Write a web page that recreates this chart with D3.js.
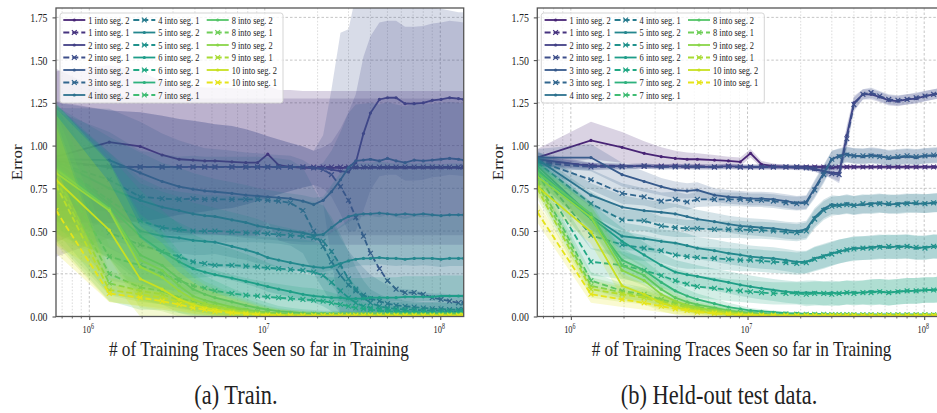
<!DOCTYPE html>
<html>
<head>
<meta charset="utf-8">
<script src="https://cdn.jsdelivr.net/npm/d3@7"></script>
<style>
  body { margin: 0; background: #fff; }
  svg text { font-family: "Liberation Serif", "DejaVu Serif", serif; fill: #222; }
</style>
</head>
<body>
<svg id="fig" width="937" height="413"></svg>
<script>
// checkpoints (millions of training traces)
const stepsM = [0.646, 1.3, 1.95, 2.6, 3.25, 3.9, 4.55, 5.2, 6.5, 7.8, 9.1, 10.4, 12, 14, 16.5, 19,
  21.5, 24, 27, 30, 33, 36.5, 40, 45, 50, 56, 63, 71, 80, 90, 101, 113, 127, 136];

const seriesNames = ["1 into seg. 2", "1 into seg. 1", "2 into seg. 2", "2 into seg. 1",
  "3 into seg. 2", "3 into seg. 1", "4 into seg. 2", "4 into seg. 1", "5 into seg. 2", "5 into seg. 1",
  "6 into seg. 2", "6 into seg. 1", "7 into seg. 2", "7 into seg. 1", "8 into seg. 2", "8 into seg. 1",
  "9 into seg. 2", "9 into seg. 1", "10 into seg. 2", "10 into seg. 1"];

const yTicks = [0, 0.25, 0.5, 0.75, 1.0, 1.25, 1.5, 1.75];
const xMajorTicks = [1e6, 1e7, 1e8];
const xTickExponents = ["6", "7", "8"];
const xLabel = "# of Training Traces Seen so far in Training";
const yLabel = "Error";
const captions = ["(a) Train.", "(b) Held-out test data."];

// ---- train: mean error per series ----
const trainMean = [
  [0.935,1.02,0.995,0.945,0.92,0.915,0.91,0.91, 0.905,0.90,0.90,0.95,0.885,0.875,0.87,0.87, 0.87,0.87,0.87,0.87,0.87,0.87,0.87,0.87, 0.87,0.87,0.87,0.87,0.87,0.87,0.87,0.87,0.87,0.87],
  [0.90,0.88,0.875,0.875,0.875,0.875,0.875,0.875, 0.875,0.875,0.875,0.875,0.875,0.875,0.875,0.875, 0.875,0.875,0.875,0.875,0.875,0.875,0.875,0.875, 0.875,0.875,0.875,0.875,0.875,0.875,0.875,0.875,0.875,0.875],
  [0.91,0.875,0.875,0.875,0.875,0.875,0.875,0.875, 0.875,0.875,0.875,0.875,0.875,0.875,0.875,0.87, 0.87,0.86,0.85,0.845,0.90,1.07,1.19,1.27, 1.28,1.28,1.245,1.245,1.25,1.265,1.27,1.28,1.275,1.27],
  [0.90,0.875,0.875,0.875,0.875,0.875,0.875,0.875, 0.875,0.875,0.875,0.875,0.875,0.875,0.875,0.87, 0.86,0.83,0.76,0.68,0.58,0.47,0.37,0.28, 0.21,0.16,0.14,0.14,0.13,0.11,0.10,0.09,0.08,0.08],
  [0.92,0.915,0.84,0.79,0.76,0.745,0.735,0.73, 0.72,0.71,0.705,0.70,0.695,0.69,0.675,0.655, 0.68,0.73,0.80,0.87,0.91,0.915,0.92,0.91, 0.925,0.91,0.90,0.915,0.91,0.915,0.92,0.925,0.92,0.915],
  [0.90,0.80,0.70,0.69,0.685,0.69,0.685,0.685, 0.685,0.685,0.685,0.68,0.675,0.665,0.62,0.50, 0.41,0.32,0.24,0.185,0.15,0.125,0.105,0.09, 0.075,0.065,0.06,0.055,0.05,0.045,0.045,0.04,0.04,0.04],
  [0.91,0.75,0.68,0.64,0.62,0.60,0.59,0.585, 0.565,0.55,0.53,0.52,0.51,0.50,0.49,0.475, 0.48,0.52,0.56,0.585,0.595,0.60,0.60,0.605, 0.60,0.595,0.60,0.595,0.60,0.595,0.59,0.595,0.595,0.595],
  [0.90,0.68,0.56,0.52,0.51,0.50,0.50,0.50, 0.495,0.49,0.49,0.485,0.48,0.475,0.47,0.46, 0.44,0.38,0.30,0.22,0.16,0.11,0.08,0.06, 0.05,0.045,0.04,0.04,0.035,0.035,0.035,0.03,0.03,0.03],
  [0.90,0.66,0.50,0.47,0.46,0.445,0.44,0.435, 0.41,0.39,0.37,0.345,0.33,0.315,0.30,0.29, 0.285,0.29,0.31,0.325,0.335,0.34,0.34,0.345, 0.34,0.34,0.335,0.34,0.34,0.34,0.335,0.34,0.34,0.34],
  [0.88,0.49,0.42,0.38,0.35,0.32,0.31,0.30, 0.30,0.295,0.29,0.285,0.28,0.275,0.27,0.26, 0.24,0.20,0.15,0.11,0.08,0.06,0.05,0.045, 0.04,0.035,0.035,0.03,0.03,0.03,0.03,0.03,0.03,0.03],
  [0.88,0.64,0.47,0.38,0.32,0.28,0.26,0.245, 0.225,0.205,0.19,0.175,0.16,0.145,0.13,0.12, 0.115,0.11,0.11,0.105,0.105,0.105,0.11,0.11, 0.11,0.11,0.115,0.115,0.115,0.115,0.12,0.12,0.12,0.12],
  [0.86,0.35,0.30,0.25,0.21,0.18,0.165,0.15, 0.135,0.125,0.12,0.115,0.11,0.105,0.10,0.095, 0.09,0.08,0.07,0.06,0.05,0.045,0.04,0.035, 0.03,0.03,0.025,0.025,0.025,0.02,0.02,0.02,0.02,0.02],
  [0.87,0.62,0.36,0.30,0.22,0.16,0.13,0.11, 0.085,0.065,0.05,0.04,0.03,0.025,0.02,0.018, 0.016,0.015,0.014,0.013,0.012,0.012,0.012,0.012, 0.012,0.012,0.012,0.012,0.012,0.012,0.012,0.012,0.012,0.012],
  [0.82,0.25,0.17,0.15,0.11,0.085,0.07,0.06, 0.045,0.035,0.028,0.022,0.018,0.015,0.013,0.012, 0.011,0.01,0.01,0.01,0.01,0.01,0.01,0.01, 0.01,0.01,0.01,0.01,0.01,0.01,0.01,0.01,0.01,0.01],
  [0.86,0.63,0.33,0.27,0.18,0.12,0.095,0.08, 0.055,0.04,0.03,0.022,0.016,0.013,0.011,0.01, 0.01,0.01,0.01,0.01,0.01,0.01,0.01,0.01, 0.01,0.01,0.01,0.01,0.01,0.01,0.01,0.01,0.01,0.01],
  [0.80,0.195,0.15,0.13,0.095,0.075,0.06,0.05, 0.035,0.025,0.018,0.014,0.011,0.01,0.009,0.009, 0.009,0.009,0.009,0.009,0.009,0.009,0.009,0.009, 0.009,0.009,0.009,0.009,0.009,0.009,0.009,0.009,0.009,0.009],
  [0.84,0.62,0.29,0.23,0.15,0.10,0.075,0.06, 0.04,0.028,0.02,0.015,0.011,0.01,0.009,0.008, 0.008,0.008,0.008,0.008,0.008,0.008,0.008,0.008, 0.008,0.008,0.008,0.008,0.008,0.008,0.008,0.008,0.008,0.008],
  [0.77,0.155,0.13,0.11,0.085,0.065,0.05,0.04, 0.028,0.02,0.014,0.01,0.008,0.007,0.007,0.007, 0.007,0.007,0.007,0.007,0.007,0.007,0.007,0.007, 0.007,0.007,0.007,0.007,0.007,0.007,0.007,0.007,0.007,0.007],
  [0.80,0.505,0.22,0.16,0.10,0.07,0.05,0.04, 0.025,0.018,0.012,0.009,0.007,0.006,0.005,0.005, 0.005,0.005,0.005,0.005,0.005,0.005,0.005,0.005, 0.005,0.005,0.005,0.005,0.005,0.005,0.005,0.005,0.005,0.005],
  [0.62,0.135,0.11,0.09,0.07,0.05,0.04,0.03, 0.02,0.014,0.01,0.007,0.006,0.005,0.004,0.004, 0.004,0.004,0.004,0.004,0.004,0.004,0.004,0.004, 0.004,0.004,0.004,0.004,0.004,0.004,0.004,0.004,0.004,0.004]
];

// ---- train: half-width of the shaded band ----
const trainLowSolidSpread = [0.38,0.28,0.24,0.20,0.16,0.13,0.11,0.10, 0.08,0.065,0.05,0.04,0.032,0.026,0.022,0.02, 0.018,0.018,0.018,0.018,0.018,0.018,0.018,0.018, 0.015,0.015,0.015,0.015,0.015,0.015,0.015,0.015,0.015,0.015];
const trainLowDashSpread = [0.38,0.16,0.13,0.11,0.09,0.075,0.065,0.055, 0.045,0.036,0.03,0.025,0.02,0.018,0.016,0.015, 0.014,0.014,0.014,0.014,0.014,0.014,0.014,0.014, 0.012,0.012,0.012,0.012,0.012,0.012,0.012,0.012,0.012,0.012];
const trainTailDashSpread = [0.35,0.07,0.065,0.06,0.05,0.045,0.04,0.035, 0.03,0.025,0.02,0.016,0.013,0.011,0.01,0.009, 0.008,0.008,0.008,0.008,0.008,0.008,0.008,0.008, 0.007,0.007,0.007,0.007,0.007,0.007,0.007,0.007,0.007,0.007];
const trainSpread = [
  [0.50,0.45,0.44,0.43,0.43,0.43,0.43,0.43, 0.43,0.43,0.43,0.40,0.44,0.45,0.45,0.45, 0.45,0.45,0.45,0.45,0.45,0.45,0.45,0.45, 0.45,0.45,0.45,0.45,0.45,0.45,0.45,0.45,0.45,0.45],
  [0.55,0.42,0.40,0.40,0.40,0.40,0.40,0.40, 0.40,0.40,0.40,0.40,0.40,0.40,0.40,0.40, 0.40,0.40,0.40,0.40,0.40,0.40,0.40,0.40, 0.40,0.40,0.40,0.40,0.40,0.40,0.40,0.40,0.40,0.40],
  [0.35,0.33,0.32,0.30,0.28,0.27,0.26,0.25, 0.24,0.22,0.20,0.18,0.16,0.14,0.12,0.10, 0.12,0.16,0.25,0.35,0.40,0.45,0.45,0.45, 0.45,0.45,0.45,0.45,0.45,0.45,0.45,0.45,0.45,0.45],
  [0.35,0.33,0.32,0.30,0.28,0.27,0.26,0.25, 0.24,0.22,0.20,0.18,0.16,0.14,0.12,0.10, 0.20,0.50,0.90,1.00,1.30,1.45,1.55,1.62, 1.70,1.70,1.70,1.70,1.70,1.70,1.70,1.70,1.70,1.70],
  [0.30,0.30,0.30,0.28,0.27,0.26,0.25,0.25, 0.25,0.25,0.25,0.25,0.25,0.25,0.24,0.22, 0.22,0.24,0.28,0.32,0.33,0.33,0.33,0.33, 0.33,0.33,0.33,0.33,0.33,0.33,0.33,0.33,0.33,0.33],
  [0.30,0.28,0.27,0.26,0.25,0.25,0.25,0.25, 0.25,0.25,0.25,0.25,0.25,0.25,0.25,0.25, 0.25,0.24,0.22,0.20,0.18,0.16,0.14,0.12, 0.11,0.10,0.10,0.10,0.09,0.09,0.09,0.09,0.09,0.09],
  [0.32,0.30,0.28,0.26,0.25,0.24,0.23,0.22, 0.22,0.22,0.22,0.22,0.22,0.22,0.22,0.22, 0.22,0.25,0.28,0.30,0.30,0.30,0.30,0.30, 0.30,0.30,0.30,0.30,0.30,0.30,0.30,0.30,0.30,0.30],
  [0.32,0.28,0.25,0.23,0.22,0.22,0.21,0.21, 0.21,0.21,0.21,0.21,0.21,0.21,0.21,0.21, 0.21,0.20,0.18,0.16,0.13,0.10,0.08,0.07, 0.06,0.06,0.05,0.05,0.05,0.05,0.05,0.05,0.05,0.05],
  [0.34,0.30,0.28,0.26,0.24,0.22,0.21,0.20, 0.20,0.20,0.20,0.20,0.20,0.20,0.20,0.20, 0.20,0.20,0.22,0.24,0.25,0.25,0.25,0.25, 0.25,0.25,0.25,0.25,0.25,0.25,0.25,0.25,0.25,0.25],
  [0.34,0.28,0.24,0.22,0.20,0.19,0.18,0.18, 0.18,0.18,0.18,0.18,0.18,0.18,0.18,0.18, 0.18,0.17,0.15,0.12,0.10,0.08,0.07,0.06, 0.05,0.05,0.05,0.05,0.05,0.05,0.05,0.05,0.05,0.05],
  [0.36,0.30,0.27,0.24,0.22,0.20,0.19,0.18, 0.17,0.16,0.15,0.14,0.13,0.12,0.12,0.12, 0.12,0.12,0.12,0.12,0.12,0.12,0.12,0.12, 0.12,0.12,0.12,0.12,0.12,0.12,0.12,0.12,0.12,0.12],
  [0.36,0.22,0.20,0.18,0.16,0.14,0.13,0.12, 0.11,0.10,0.09,0.085,0.08,0.075,0.07,0.07, 0.065,0.06,0.055,0.05,0.045,0.04,0.035,0.03, 0.03,0.03,0.03,0.03,0.03,0.03,0.03,0.03,0.03,0.03],
  trainLowSolidSpread, trainLowDashSpread,
  trainLowSolidSpread, trainTailDashSpread,
  trainLowSolidSpread, trainTailDashSpread,
  trainLowSolidSpread,
  [0.25,0.05,0.05,0.05,0.04,0.035,0.03,0.025, 0.02,0.015,0.012,0.01,0.008,0.007,0.006,0.005, 0.005,0.005,0.005,0.005,0.005,0.005,0.005,0.005, 0.005,0.005,0.005,0.005,0.005,0.005,0.005,0.005,0.005,0.005]
];

// ---- held-out test: mean error per series ----
const testMean = [
  [0.93,1.03,0.99,0.955,0.935,0.925,0.92,0.92, 0.915,0.91,0.905,0.955,0.89,0.88,0.875,0.875, 0.875,0.875,0.875,0.87,0.875,0.875,0.875,0.875, 0.875,0.875,0.875,0.875,0.875,0.875,0.875,0.875,0.875,0.875],
  [0.91,0.885,0.88,0.88,0.88,0.88,0.875,0.88, 0.875,0.88,0.875,0.875,0.875,0.875,0.875,0.875, 0.875,0.875,0.875,0.875,0.875,0.875,0.875,0.875, 0.875,0.875,0.875,0.875,0.875,0.875,0.875,0.875,0.875,0.875],
  [0.92,0.88,0.88,0.88,0.875,0.88,0.875,0.875, 0.875,0.88,0.875,0.875,0.875,0.875,0.875,0.87, 0.87,0.86,0.85,0.84,0.84,1.06,1.25,1.30, 1.30,1.285,1.265,1.26,1.27,1.275,1.29,1.30,1.31,1.31],
  [0.90,0.875,0.875,0.88,0.875,0.875,0.88,0.875, 0.875,0.875,0.875,0.875,0.875,0.875,0.875,0.875, 0.87,0.865,0.85,0.835,0.83,1.04,1.24,1.30, 1.31,1.29,1.27,1.265,1.27,1.28,1.29,1.30,1.305,1.31],
  [0.93,0.93,0.83,0.79,0.76,0.74,0.735,0.74, 0.71,0.70,0.695,0.69,0.69,0.685,0.675,0.665, 0.67,0.75,0.84,0.92,0.94,0.95,0.94,0.935, 0.945,0.94,0.925,0.93,0.935,0.93,0.94,0.94,0.945,0.95],
  [0.91,0.80,0.72,0.70,0.675,0.685,0.67,0.685, 0.685,0.685,0.685,0.68,0.68,0.675,0.665,0.66, 0.665,0.74,0.83,0.92,0.935,0.945,0.94,0.94, 0.94,0.935,0.93,0.935,0.94,0.935,0.94,0.945,0.945,0.95],
  [0.92,0.71,0.64,0.62,0.61,0.60,0.585,0.57, 0.555,0.54,0.53,0.525,0.52,0.515,0.505,0.50, 0.51,0.58,0.63,0.655,0.65,0.66,0.65,0.655, 0.66,0.665,0.655,0.66,0.665,0.66,0.66,0.665,0.67,0.67],
  [0.90,0.66,0.565,0.56,0.53,0.52,0.515,0.515, 0.51,0.51,0.51,0.505,0.505,0.50,0.495,0.49, 0.50,0.57,0.62,0.645,0.65,0.655,0.65,0.66, 0.655,0.66,0.66,0.655,0.66,0.665,0.66,0.665,0.665,0.67],
  [0.88,0.59,0.47,0.455,0.44,0.43,0.415,0.40, 0.385,0.37,0.36,0.35,0.345,0.34,0.33,0.32, 0.32,0.34,0.355,0.37,0.38,0.39,0.40,0.40, 0.405,0.41,0.405,0.41,0.41,0.40,0.405,0.41,0.41,0.41],
  [0.86,0.475,0.42,0.40,0.385,0.36,0.35,0.345, 0.34,0.335,0.33,0.33,0.325,0.32,0.315,0.31, 0.315,0.335,0.35,0.365,0.38,0.39,0.395,0.40, 0.40,0.405,0.41,0.405,0.41,0.405,0.40,0.41,0.405,0.41],
  [0.86,0.58,0.44,0.36,0.30,0.26,0.245,0.235, 0.215,0.20,0.185,0.175,0.165,0.155,0.145,0.14, 0.14,0.14,0.135,0.14,0.135,0.14,0.14,0.14, 0.145,0.145,0.14,0.145,0.15,0.15,0.155,0.155,0.16,0.16],
  [0.84,0.32,0.30,0.27,0.24,0.21,0.19,0.175, 0.165,0.155,0.15,0.145,0.14,0.135,0.135,0.135, 0.13,0.135,0.135,0.13,0.135,0.14,0.135,0.14, 0.14,0.145,0.14,0.145,0.15,0.15,0.155,0.155,0.16,0.16],
  [0.85,0.57,0.33,0.27,0.20,0.15,0.12,0.10, 0.075,0.055,0.045,0.035,0.03,0.025,0.02,0.018, 0.015,0.015,0.014,0.013,0.013,0.012,0.012,0.012, 0.012,0.012,0.012,0.012,0.012,0.012,0.012,0.012,0.012,0.012],
  [0.80,0.21,0.15,0.13,0.10,0.08,0.065,0.055, 0.04,0.03,0.025,0.02,0.018,0.016,0.015,0.014, 0.013,0.012,0.012,0.011,0.011,0.011,0.01,0.01, 0.01,0.01,0.01,0.01,0.01,0.01,0.01,0.01,0.01,0.01],
  [0.84,0.60,0.30,0.24,0.16,0.11,0.085,0.07, 0.05,0.035,0.025,0.02,0.015,0.012,0.01,0.01, 0.01,0.01,0.01,0.01,0.01,0.01,0.01,0.01, 0.01,0.01,0.01,0.01,0.01,0.01,0.01,0.01,0.01,0.01],
  [0.78,0.18,0.14,0.12,0.09,0.07,0.055,0.045, 0.03,0.02,0.015,0.012,0.01,0.01,0.009,0.009, 0.009,0.009,0.009,0.009,0.009,0.009,0.009,0.009, 0.009,0.009,0.009,0.009,0.009,0.009,0.009,0.009,0.009,0.009],
  [0.82,0.58,0.27,0.21,0.13,0.09,0.065,0.05, 0.035,0.025,0.018,0.014,0.01,0.009,0.008,0.008, 0.008,0.008,0.008,0.008,0.008,0.008,0.008,0.008, 0.008,0.008,0.008,0.008,0.008,0.008,0.008,0.008,0.008,0.008],
  [0.75,0.16,0.13,0.11,0.08,0.06,0.045,0.035, 0.025,0.018,0.012,0.01,0.008,0.007,0.007,0.007, 0.007,0.007,0.007,0.007,0.007,0.007,0.007,0.007, 0.007,0.007,0.007,0.007,0.007,0.007,0.007,0.007,0.007,0.007],
  [0.76,0.495,0.18,0.13,0.08,0.055,0.04,0.03, 0.02,0.015,0.01,0.008,0.006,0.006,0.005,0.005, 0.005,0.005,0.005,0.005,0.005,0.005,0.005,0.005, 0.005,0.005,0.005,0.005,0.005,0.005,0.005,0.005,0.005,0.005],
  [0.61,0.13,0.10,0.08,0.06,0.045,0.035,0.025, 0.018,0.012,0.008,0.006,0.005,0.005,0.004,0.004, 0.004,0.004,0.004,0.004,0.004,0.004,0.004,0.004, 0.004,0.004,0.004,0.004,0.004,0.004,0.004,0.004,0.004,0.004]
];

// ---- held-out test: half-width of the shaded band ----
const testK2Spread = [0.04,0.02,0.015,0.015,0.015,0.015,0.015,0.015, 0.015,0.015,0.015,0.015,0.015,0.015,0.015,0.015, 0.015,0.015,0.02,0.03,0.05,0.06,0.04,0.03, 0.03,0.03,0.03,0.03,0.03,0.03,0.03,0.03,0.03,0.03];
const testK5Spread = [0.06,0.08,0.08,0.075,0.07,0.07,0.07,0.065, 0.065,0.065,0.065,0.065,0.065,0.065,0.065,0.065, 0.065,0.07,0.07,0.07,0.07,0.07,0.07,0.07, 0.07,0.07,0.07,0.07,0.07,0.07,0.07,0.07,0.07,0.07];
const testK6Spread = [0.06,0.08,0.08,0.075,0.07,0.07,0.07,0.065, 0.065,0.065,0.065,0.065,0.065,0.065,0.065,0.065, 0.07,0.07,0.07,0.07,0.07,0.07,0.07,0.07, 0.075,0.075,0.075,0.075,0.075,0.075,0.075,0.075,0.075,0.075];
const testLowSolidSpread = [0.06,0.07,0.07,0.06,0.05,0.045,0.04,0.035, 0.03,0.025,0.02,0.015,0.012,0.01,0.008,0.007, 0.006,0.006,0.006,0.006,0.006,0.006,0.006,0.006, 0.005,0.005,0.005,0.005,0.005,0.005,0.005,0.005,0.005,0.005];
const testLowDashSpread = [0.06,0.05,0.045,0.04,0.035,0.03,0.025,0.02, 0.018,0.015,0.012,0.01,0.008,0.007,0.006,0.005, 0.005,0.005,0.005,0.005,0.005,0.005,0.005,0.005, 0.005,0.005,0.005,0.005,0.005,0.005,0.005,0.005,0.005,0.005];
const testSpread = [
  [0.05,0.11,0.09,0.07,0.055,0.045,0.04,0.035, 0.03,0.025,0.025,0.025,0.02,0.015,0.012,0.012, 0.012,0.012,0.012,0.012,0.012,0.012,0.012,0.012, 0.012,0.012,0.012,0.012,0.012,0.012,0.012,0.012,0.012,0.012],
  [0.03,0.015,0.012,0.012,0.012,0.012,0.012,0.012, 0.012,0.012,0.012,0.012,0.012,0.012,0.012,0.012, 0.012,0.012,0.012,0.012,0.012,0.012,0.012,0.012, 0.012,0.012,0.012,0.012,0.012,0.012,0.012,0.012,0.012,0.012],
  testK2Spread, testK2Spread,
  [0.05,0.08,0.07,0.06,0.05,0.05,0.045,0.045, 0.04,0.04,0.04,0.04,0.04,0.04,0.04,0.04, 0.04,0.05,0.05,0.05,0.045,0.045,0.045,0.045, 0.045,0.045,0.045,0.045,0.045,0.045,0.045,0.045,0.045,0.045],
  [0.05,0.06,0.06,0.05,0.05,0.045,0.045,0.045, 0.04,0.04,0.04,0.04,0.04,0.04,0.04,0.04, 0.04,0.05,0.05,0.05,0.045,0.045,0.045,0.045, 0.045,0.045,0.045,0.045,0.045,0.045,0.045,0.045,0.045,0.045],
  [0.05,0.07,0.07,0.065,0.06,0.06,0.055,0.055, 0.05,0.05,0.05,0.05,0.05,0.05,0.05,0.05, 0.05,0.055,0.055,0.055,0.055,0.055,0.055,0.055, 0.055,0.055,0.055,0.055,0.055,0.055,0.055,0.055,0.055,0.055],
  [0.05,0.07,0.06,0.06,0.055,0.055,0.05,0.05, 0.05,0.05,0.05,0.05,0.05,0.05,0.05,0.05, 0.05,0.055,0.055,0.055,0.055,0.055,0.055,0.055, 0.055,0.055,0.055,0.055,0.055,0.055,0.055,0.055,0.055,0.055],
  testK5Spread, testK5Spread,
  testK6Spread, testK6Spread,
  testLowSolidSpread, testLowDashSpread,
  testLowSolidSpread, testLowDashSpread,
  testLowSolidSpread, testLowDashSpread,
  testLowSolidSpread, testLowDashSpread
];

// ---------------- drawing ----------------
const svg = d3.select("#fig");
const plotTop = 8, plotBottom = 316.5;
const SX = 0.8;          // the figure text is squeezed horizontally
const color = i => d3.interpolateViridis(0.1 + 0.86 * i / 19);

const panels = [
  { id: "train", left: 56, right: 463.7, mean: trainMean, spread: trainSpread, caption: captions[0], capX: 236, ylabX: 22 },
  { id: "test", left: 537.3, right: 947.8, mean: testMean, spread: testSpread, caption: captions[1], capX: 719, ylabX: 503 }
];

function squishText(g, x, y, str, size, anchor) {
  return g.append("text")
    .attr("transform", `translate(${x},${y}) scale(${SX},1)`)
    .attr("text-anchor", anchor)
    .attr("font-size", size)
    .text(str);
}

function xMarker(sel, cx, cy, c) {
  sel.append("path")
    .attr("d", `M${cx - 2.4},${cy - 2.4}L${cx + 2.4},${cy + 2.4}M${cx - 2.4},${cy + 2.4}L${cx + 2.4},${cy - 2.4}`)
    .attr("stroke", c).attr("stroke-width", 1.2).attr("fill", "none");
}

function drawPanel(p) {
  const x = d3.scaleLog().domain([6.46e5, 1.36e8]).range([p.left, p.right]);
  const y = d3.scaleLinear().domain([0, 1.805]).range([plotBottom, plotTop]);
  const g = svg.append("g");

  svg.append("clipPath").attr("id", "clip-" + p.id)
    .append("rect").attr("x", p.left).attr("y", plotTop)
    .attr("width", p.right - p.left).attr("height", plotBottom - plotTop);

  // grid
  const grid = g.append("g");
  const minor = x.ticks().filter(t => !xMajorTicks.includes(t));
  grid.selectAll(".gminor").data(minor).join("line")
    .attr("x1", d => x(d)).attr("x2", d => x(d)).attr("y1", plotTop).attr("y2", plotBottom)
    .attr("stroke", "#c4c4c4").attr("stroke-width", 0.6).attr("stroke-dasharray", "1.6,1.6");
  grid.selectAll(".gmajor").data(xMajorTicks).join("line")
    .attr("x1", d => x(d)).attr("x2", d => x(d)).attr("y1", plotTop).attr("y2", plotBottom)
    .attr("stroke", "#b8b8b8").attr("stroke-width", 0.8).attr("stroke-dasharray", "2.5,2");
  grid.selectAll(".gy").data(yTicks).join("line")
    .attr("x1", p.left).attr("x2", p.right).attr("y1", d => y(d)).attr("y2", d => y(d))
    .attr("stroke", "#b8b8b8").attr("stroke-width", 0.8).attr("stroke-dasharray", "2.5,2");

  // series
  const data = g.append("g").attr("clip-path", `url(#clip-${p.id})`);
  const area = d3.area().x(d => x(d.x)).y0(d => y(Math.max(0, d.m - d.s))).y1(d => y(d.m + d.s));
  const line = d3.line().x(d => x(d.x)).y(d => y(d.m));

  p.mean.forEach((ms, i) => {
    const c = color(i);
    const pts = stepsM.map((s, j) => ({ x: s * 1e6, m: ms[j], s: p.spread[i][j] }));
    data.append("path").datum(pts).attr("d", area).attr("fill", c).attr("fill-opacity", 0.2);
    data.append("path").datum(pts).attr("d", line).attr("fill", "none")
      .attr("stroke", c).attr("stroke-width", 1.8)
      .attr("stroke-dasharray", i % 2 ? "6,3" : null);
    const mk = data.append("g");
    pts.forEach(d => {
      if (i % 2) xMarker(mk, x(d.x), y(d.m), c);
      else mk.append("circle").attr("cx", x(d.x)).attr("cy", y(d.m)).attr("r", 1.6).attr("fill", c);
    });
  });

  // axes
  const yAx = g.append("g").attr("transform", `translate(${p.left},0)`)
    .call(d3.axisLeft(y).tickValues(yTicks).tickFormat(d3.format(".2f")).tickSize(3.5));
  yAx.select(".domain").remove();
  yAx.selectAll("line").attr("stroke", "#444");
  yAx.selectAll("text").attr("x", 0).attr("dy", null)
    .attr("transform", `translate(-8.5,4) scale(${SX},1)`)
    .attr("font-size", 12.3).attr("font-family", null);

  const xAx = g.append("g").attr("transform", `translate(0,${plotBottom})`)
    .call(d3.axisBottom(x).tickValues(xMajorTicks).tickFormat("").tickSize(3.5));
  xAx.select(".domain").remove();
  xAx.selectAll("line").attr("stroke", "#444");
  g.append("g").attr("transform", `translate(0,${plotBottom})`)
    .selectAll("line").data(minor).join("line")
    .attr("x1", d => x(d)).attr("x2", d => x(d)).attr("y1", 0).attr("y2", 2)
    .attr("stroke", "#444").attr("stroke-width", 0.8);

  xMajorTicks.forEach((t, k) => {
    const tx = g.append("text")
      .attr("transform", `translate(${x(t) - 1},${plotBottom + 16}) scale(${SX},1)`)
      .attr("text-anchor", "middle").attr("font-size", 10.5);
    tx.append("tspan").text("10");
    tx.append("tspan").attr("dy", -4).attr("font-size", 7.5).text(xTickExponents[k]);
  });

  // frame
  g.append("rect").attr("x", p.left).attr("y", plotTop)
    .attr("width", p.right - p.left).attr("height", plotBottom - plotTop)
    .attr("fill", "none").attr("stroke", "#555").attr("stroke-width", 1.3);

  // labels
  squishText(g, (p.left + p.right) / 2 - 1, 355.5, xLabel, 21.5, "middle");
  g.append("text")
    .attr("transform", `translate(${p.ylabX},${(plotTop + plotBottom) / 2}) scale(${SX},1) rotate(-90)`)
    .attr("text-anchor", "middle").attr("font-size", 17).text(yLabel);
  squishText(svg, p.capX, 404, p.caption, 28, "middle");

  // legend
  const lg = g.append("g").attr("transform", `translate(${p.left + 4},13)`);
  lg.append("rect").attr("width", 223).attr("height", 90).attr("rx", 2.5)
    .attr("fill", "#fff").attr("fill-opacity", 0.8)
    .attr("stroke", "#d0d0d0").attr("stroke-width", 0.9);
  const colX = [3.3, 73.3, 146.7];
  seriesNames.forEach((name, i) => {
    const cx = colX[Math.floor(i / 7)];
    const cy = 7 + (i % 7) * 12.5;
    const c = color(i);
    lg.append("line").attr("x1", cx).attr("x2", cx + 22).attr("y1", cy).attr("y2", cy)
      .attr("stroke", c).attr("stroke-width", 1.8)
      .attr("stroke-dasharray", i % 2 ? "6,3" : null);
    if (i % 2) xMarker(lg, cx + 11, cy, c);
    else lg.append("circle").attr("cx", cx + 11).attr("cy", cy).attr("r", 1.6).attr("fill", c);
    squishText(lg, cx + 25, cy + 3.5, name, 10.5, "start");
  });
}

panels.forEach(drawPanel);
</script>
</body>
</html>
